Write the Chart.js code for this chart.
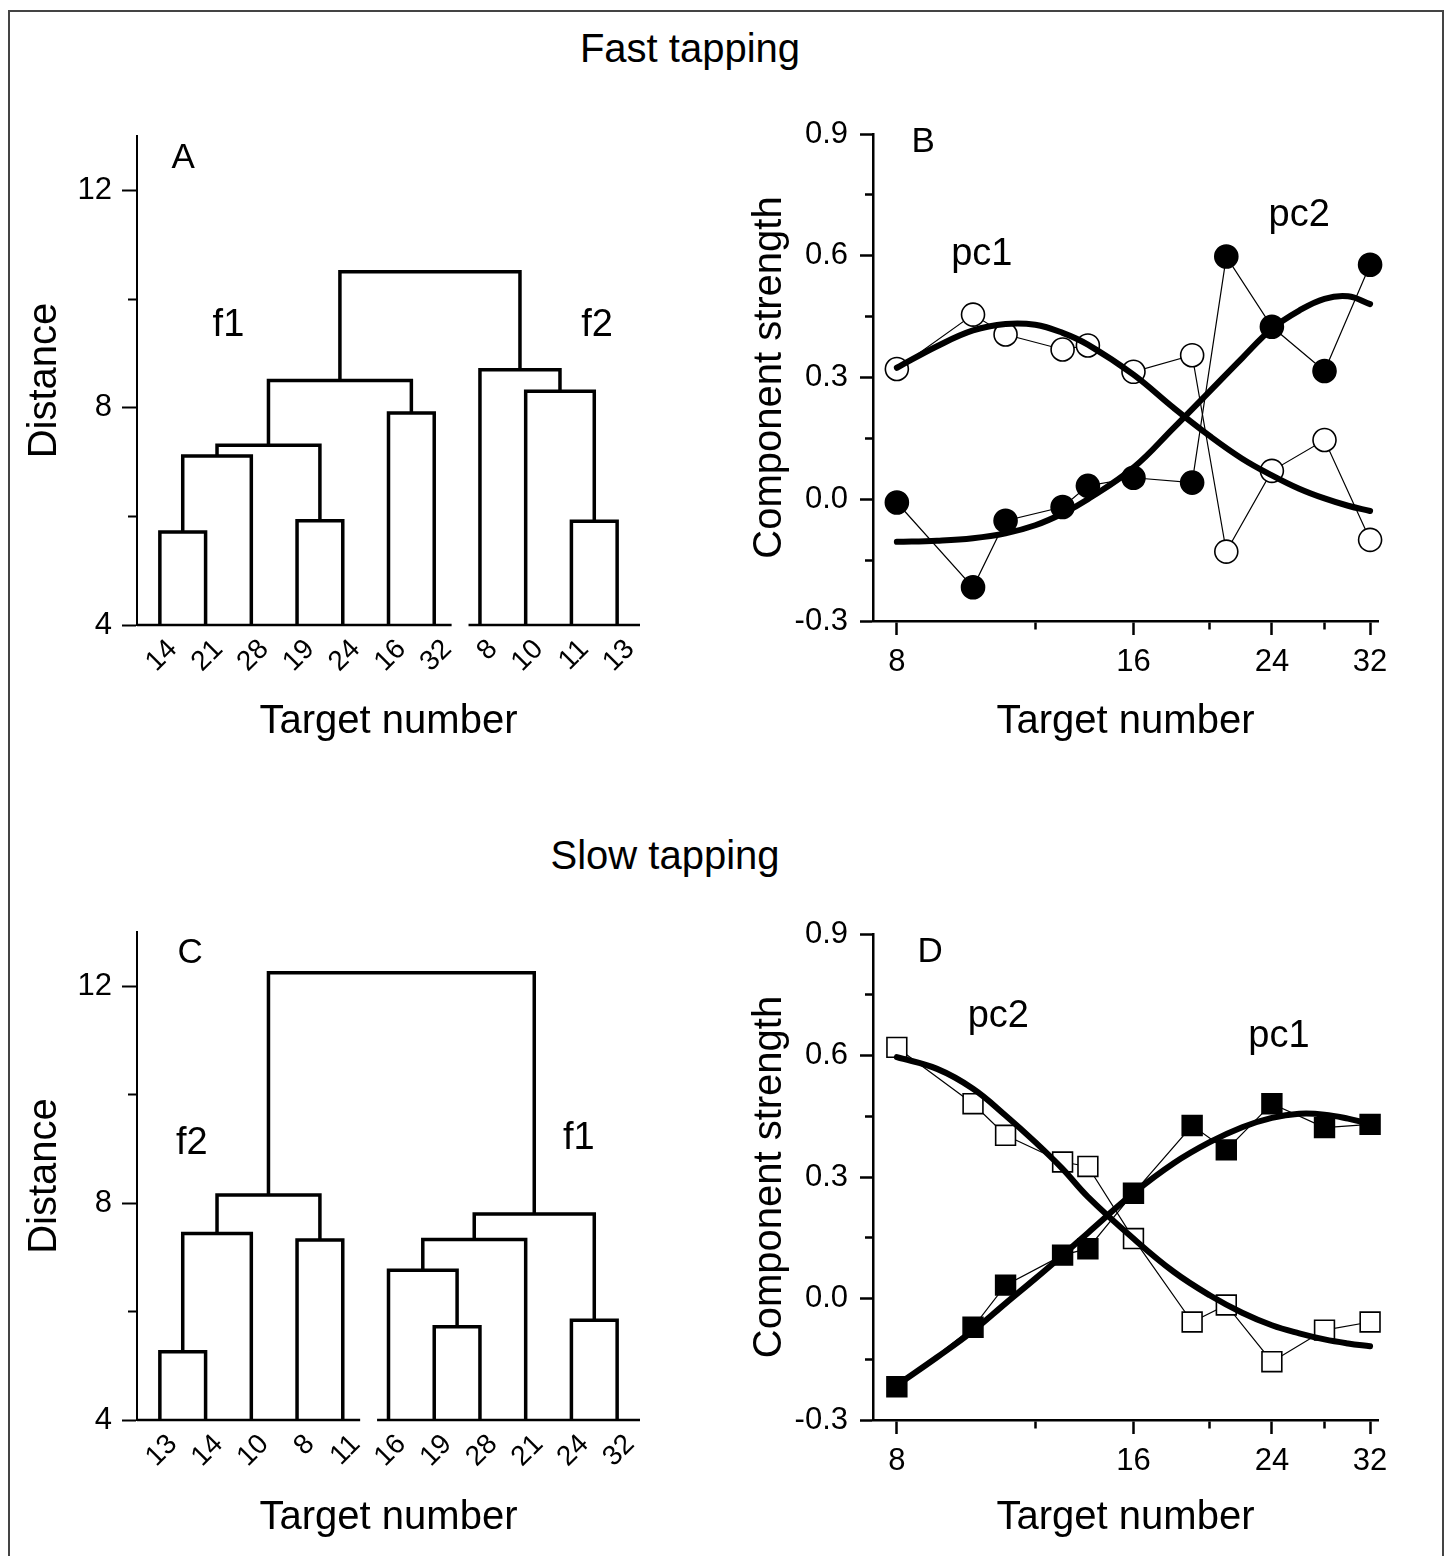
<!DOCTYPE html>
<html lang="en">
<head>
<meta charset="UTF-8" />
<title>Fast and slow tapping: clusters and component strength</title>
<script src="https://cdn.jsdelivr.net/npm/chart.js"></script>
<style>
  body { margin: 0; background: #fff; font-family: 'Liberation Sans', Arial, sans-serif; }
  #page { position: relative; width: 1448px; height: 1556px; overflow: hidden; }
  #frame { position: absolute; left: 8px; top: 10px; width: 1432px; height: 1600px; border: 2px solid #444; }
  .title { position: absolute; font-size: 40px; line-height: 1; transform: translate(-50%, -50%); white-space: nowrap; color: #000; }
  canvas { position: absolute; }
</style>
</head>
<body>
<div id="page">
  <div id="frame"></div>
  <div class="title" style="left:690px; top:48px">Fast tapping</div>
  <div class="title" style="left:665px; top:855px">Slow tapping</div>
  <canvas id="chartA" width="700" height="680" style="left:0; top:100px"></canvas>
  <canvas id="chartB" width="748" height="680" style="left:700px; top:100px"></canvas>
  <canvas id="chartC" width="700" height="660" style="left:0; top:896px"></canvas>
  <canvas id="chartD" width="748" height="660" style="left:700px; top:896px"></canvas>
</div>

<script>
// Dendrograms: leaves in drawn order, merges as [left node, right node, distance].
// Nodes 0..10 are the leaves, every merge adds the next node id.
const fastLeaves = ['14', '21', '28', '19', '24', '16', '32', '8', '10', '11', '13'];
const fastMerges = [
  [0, 1, 5.71], [11, 2, 7.11], [3, 4, 5.92], [12, 13, 7.31], [5, 6, 7.90],
  [14, 15, 8.50], [9, 10, 5.91], [8, 17, 8.30], [7, 18, 8.70], [16, 19, 10.50]
];
const fastClusters = [7, 4];

const slowLeaves = ['13', '14', '10', '8', '11', '16', '19', '28', '21', '24', '32'];
const slowMerges = [
  [0, 1, 5.26], [11, 2, 7.44], [3, 4, 7.32], [12, 13, 8.15], [6, 7, 5.72],
  [5, 15, 6.76], [16, 8, 7.33], [9, 10, 5.84], [17, 18, 7.80], [14, 19, 12.25]
];
const slowClusters = [5, 6];

const distTicks = [4, 6, 8, 10, 12];
const distLabels = [4, 8, 12];

// Component strength per target number
const targets = [8, 10, 11, 13, 14, 16, 19, 21, 24, 28, 32];
const fastPc1 = [0.321, 0.455, 0.406, 0.369, 0.379, 0.314, 0.355, -0.129, 0.070, 0.146, -0.100];
const fastPc2 = [-0.008, -0.217, -0.053, -0.019, 0.033, 0.053, 0.041, 0.598, 0.425, 0.316, 0.578];
const slowPc1 = [-0.218, -0.071, 0.033, 0.107, 0.123, 0.260, 0.427, 0.367, 0.481, 0.422, 0.430];
const slowPc2 = [0.620, 0.481, 0.403, 0.337, 0.326, 0.148, -0.058, -0.016, -0.156, -0.078, -0.058];

// fitted curves
const fitTargets = [8, 9, 10, 11, 12, 13, 14, 16, 18, 20, 22, 24, 26, 28, 30, 32];
const fastPc1Fit = [0.324, 0.377, 0.416, 0.432, 0.430, 0.410, 0.381, 0.307, 0.225, 0.156, 0.100, 0.059, 0.026, 0.002, -0.016, -0.029];
const fastPc2Fit = [-0.105, -0.102, -0.096, -0.084, -0.064, -0.035, 0.000, 0.078, 0.176, 0.266, 0.348, 0.420, 0.465, 0.494, 0.500, 0.481];
const slowPc1Fit = [-0.214, -0.145, -0.080, -0.012, 0.049, 0.107, 0.162, 0.260, 0.334, 0.386, 0.423, 0.446, 0.456, 0.454, 0.444, 0.431];
const slowPc2Fit = [0.596, 0.567, 0.518, 0.452, 0.386, 0.320, 0.251, 0.148, 0.066, 0.008, -0.035, -0.066, -0.086, -0.101, -0.111, -0.118];

const targetTicks = [8, 12, 16, 20, 24, 28, 32];
const targetLabels = [8, 16, 24, 32];
const strengthTicks = [-0.3, -0.15, 0, 0.15, 0.3, 0.45, 0.6, 0.75, 0.9];
const strengthLabels = [-0.3, 0, 0.3, 0.6, 0.9];

const FONT = "'Liberation Sans', Arial, sans-serif";
Chart.defaults.font.family = FONT;
Chart.defaults.color = '#000';
Chart.defaults.animation = false;
Chart.defaults.plugins.legend.display = false;
Chart.defaults.plugins.tooltip.enabled = false;

function isIn(list, v) {
  return list.some(l => Math.abs(l - v) < 1e-9);
}

// text labels placed in data coordinates
const notesPlugin = {
  id: 'notes',
  afterDatasetsDraw(chart, args, opts) {
    const { ctx, scales: { x, y } } = chart;
    ctx.save();
    ctx.fillStyle = '#000';
    ctx.textAlign = 'center';
    ctx.textBaseline = 'middle';
    (opts.items || []).forEach(n => {
      ctx.font = n.size + 'px ' + FONT;
      ctx.fillText(n.text, x.getPixelForValue(n.x), y.getPixelForValue(n.y));
    });
    ctx.restore();
  }
};

// major ticks full length, minor ticks shortened with a dash
function tickGrid(labels, len, minorLen, width, vertical) {
  return {
    drawOnChartArea: false,
    tickLength: len,
    tickWidth: width,
    tickColor: '#000',
    tickBorderDash: c => isIn(labels, c.tick.value) ? [] :
      (vertical ? [0, len - minorLen - 1, minorLen, 100] : [minorLen, 100])
  };
}

function segment(points, width) {
  return {
    data: points.map(([x, y]) => ({ x, y })),
    borderColor: '#000',
    borderWidth: width,
    borderJoinStyle: 'miter',
    pointRadius: 0,
    clip: false
  };
}

function drawDendrogram(id, leaves, merges, clusters, pad, axisHeight, titlePad, notes) {
  const base = distTicks[0];
  const xMin = -0.5, xMax = leaves.length - 0.5;
  const xs = leaves.map((_, i) => i);
  const hs = leaves.map(() => base);
  const datasets = [];
  merges.forEach(([a, b, h]) => {
    datasets.push(segment([[xs[a], hs[a]], [xs[a], h], [xs[b], h], [xs[b], hs[b]]], 3.5));
    xs.push((xs[a] + xs[b]) / 2);
    hs.push(h);
  });
  let first = 0;
  clusters.forEach((size, k) => {
    const last = first + size - 1;
    const lo = k === 0 ? xMin : first - 0.25;
    const hi = k === clusters.length - 1 ? xMax : last + 0.38;
    datasets.push(segment([[lo, base], [hi, base]], 2.5));
    first += size;
  });

  new Chart(document.getElementById(id), {
    type: 'line',
    data: { datasets },
    options: {
      responsive: false,
      layout: { padding: pad },
      scales: {
        x: {
          type: 'linear', min: xMin, max: xMax,
          afterBuildTicks: s => { s.ticks = leaves.map((_, i) => ({ value: i })); },
          afterFit: s => { s.height = axisHeight; },
          grid: { display: false, drawTicks: false },
          border: { display: false },
          ticks: {
            autoSkip: false, minRotation: 45, maxRotation: 45, padding: 8, labelOffset: 13,
            font: { size: 28 }, callback: v => leaves[v]
          },
          title: { display: true, text: 'Target number', font: { size: 40 }, padding: { top: 0, bottom: titlePad } }
        },
        y: {
          type: 'linear', min: 4, max: 13,
          afterBuildTicks: s => { s.ticks = distTicks.map(v => ({ value: v })); },
          afterFit: s => { s.width = 137; },
          grid: tickGrid(distLabels, 15, 8, 2, true),
          border: { color: '#000', width: 2 },
          ticks: { padding: 10, font: { size: 31 }, callback: v => isIn(distLabels, v) ? String(v) : '' },
          title: { display: true, text: 'Distance', font: { size: 40 }, padding: { top: 21, bottom: 0 } }
        }
      },
      plugins: { notes: { items: notes } }
    },
    plugins: [notesPlugin]
  });
}

function drawComponents(id, open, filled, openFit, filledFit, marker, radius, pad, axisHeight, titlePad, notes) {
  const pts = arr => targets.map((t, i) => ({ x: t, y: arr[i] }));
  const fit = arr => fitTargets.map((t, i) => ({ x: t, y: arr[i] }));
  const curve = arr => ({
    data: fit(arr), borderColor: '#000', borderWidth: 6, pointRadius: 0,
    tension: 0.4, borderCapStyle: 'round', clip: false, order: 0
  });
  const marks = (arr, fill) => ({
    data: pts(arr), borderColor: '#000', borderWidth: 1.2,
    pointStyle: marker, pointRadius: radius, pointBackgroundColor: fill,
    pointBorderColor: '#000', pointBorderWidth: 1.6, clip: false, order: 1
  });

  new Chart(document.getElementById(id), {
    type: 'line',
    data: { datasets: [curve(openFit), curve(filledFit), marks(open, '#fff'), marks(filled, '#000')] },
    options: {
      responsive: false,
      layout: { padding: pad },
      scales: {
        x: {
          type: 'logarithmic', min: 7.46, max: 32.75,
          afterBuildTicks: s => { s.ticks = targetTicks.map(v => ({ value: v })); },
          afterFit: s => { s.height = axisHeight; },
          grid: tickGrid(targetLabels, 14, 7, 2.5, false),
          border: { color: '#000', width: 2.5 },
          ticks: { autoSkip: false, maxRotation: 0, padding: 9, font: { size: 31 },
            callback: v => isIn(targetLabels, v) ? String(v) : '' },
          title: { display: true, text: 'Target number', font: { size: 40 }, padding: { top: 0, bottom: titlePad } }
        },
        y: {
          type: 'linear', min: -0.3, max: 0.9,
          afterBuildTicks: s => { s.ticks = strengthTicks.map(v => ({ value: v })); },
          afterFit: s => { s.width = 173; },
          grid: tickGrid(strengthLabels, 13, 7, 2.5, true),
          border: { color: '#000', width: 2.5 },
          ticks: { padding: 12, font: { size: 31 },
            callback: v => isIn(strengthLabels, v) ? v.toFixed(1) : '' },
          title: { display: true, text: 'Component strength', font: { size: 40 }, padding: { top: 46, bottom: 0 } }
        }
      },
      plugins: { notes: { items: notes } }
    },
    plugins: [notesPlugin]
  });
}

drawDendrogram('chartA', fastLeaves, fastMerges, fastClusters,
  { left: 0, top: 36, right: 60, bottom: 0 }, 155, 34, [
    { text: 'A', x: 0.51, y: 12.59, size: 35 },
    { text: 'f1', x: 1.5, y: 9.52, size: 38 },
    { text: 'f2', x: 9.56, y: 9.52, size: 38 }
  ]);

drawDendrogram('chartC', slowLeaves, slowMerges, slowClusters,
  { left: 0, top: 36, right: 60, bottom: 0 }, 136, 14, [
    { text: 'C', x: 0.66, y: 12.6, size: 35 },
    { text: 'f2', x: 0.7, y: 9.1, size: 38 },
    { text: 'f1', x: 9.16, y: 9.2, size: 38 }
  ]);

drawComponents('chartB', fastPc1, fastPc2, fastPc1Fit, fastPc2Fit, 'circle', 11.5,
  { left: 0, top: 34, right: 70, bottom: 0 }, 159, 34, [
    { text: 'B', x: 8.64, y: 0.879, size: 35 },
    { text: 'pc1', x: 10.26, y: 0.604, size: 38 },
    { text: 'pc2', x: 26.0, y: 0.698, size: 38 }
  ]);

drawComponents('chartD', slowPc2, slowPc1, slowPc2Fit, slowPc1Fit, 'rect', 14,
  { left: 0, top: 38, right: 70, bottom: 0 }, 136, 14, [
    { text: 'D', x: 8.82, y: 0.854, size: 35 },
    { text: 'pc2', x: 10.77, y: 0.697, size: 38 },
    { text: 'pc1', x: 24.5, y: 0.647, size: 38 }
  ]);
</script>
</body>
</html>
